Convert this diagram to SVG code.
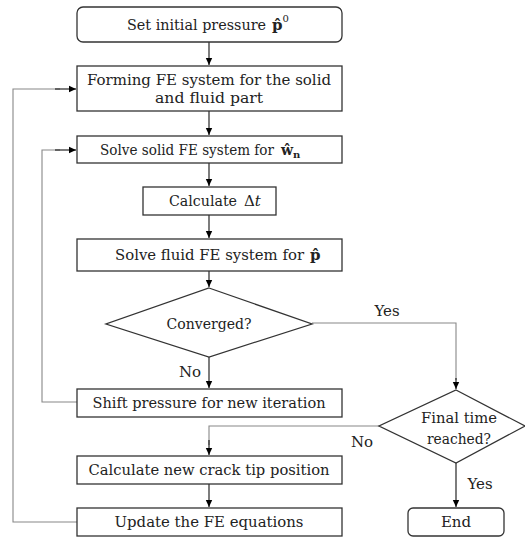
<svg xmlns="http://www.w3.org/2000/svg" width="525" height="539" viewBox="0 0 525 539">
<defs>
<marker id="ah" markerWidth="8" markerHeight="8" refX="7" refY="4" orient="auto" markerUnits="userSpaceOnUse">
<path d="M0,0.8 L7,4 L0,7.2 Z" fill="#000"/>
</marker>
<style>
.box{fill:#fff;stroke:#333;stroke-width:1.3}
text{font-family:'DejaVu Serif',serif;font-size:15px;fill:#222;text-anchor:middle}
.m{text-anchor:start;font-weight:bold}
.s{text-anchor:start;font-size:10px}
.c{fill:none;stroke:#111;stroke-width:1.1}
.g{fill:none;stroke:#888;stroke-width:1.1}
</style>
</defs>
<g id="connectors">
<path class="c" d="M209,42 V65" marker-end="url(#ah)"/>
<path class="c" d="M209,111 V135" marker-end="url(#ah)"/>
<path class="c" d="M209,163 V186" marker-end="url(#ah)"/>
<path class="c" d="M209,215 V238" marker-end="url(#ah)"/>
<path class="c" d="M209,271 V287" marker-end="url(#ah)"/>
<path class="c" d="M209,357 V388" marker-end="url(#ah)"/>
<path class="g" d="M312,323 H456 V380"/>
<path class="c" d="M456,378 V389" marker-end="url(#ah)"/>
<path class="g" d="M379,426 H209 V445"/>
<path class="c" d="M209,440 V455" marker-end="url(#ah)"/>
<path class="c" d="M209,484 V507" marker-end="url(#ah)"/>
<path class="c" d="M456,463 V507" marker-end="url(#ah)"/>
<path class="g" d="M77,402 H42 V150 H60"/>
<path class="c" d="M55,150 H76" marker-end="url(#ah)"/>
<path class="g" d="M77,522 H13 V89 H60"/>
<path class="c" d="M55,89 H76" marker-end="url(#ah)"/>
<text x="387" y="316">Yes</text>
<text x="190" y="377">No</text>
<text x="362" y="447">No</text>
<text x="480" y="489">Yes</text>
</g>
<g id="n1">
<rect class="box" x="77" y="7" width="265" height="35" rx="6"/>
<text x="196.5" y="30" textLength="139" lengthAdjust="spacingAndGlyphs">Set initial pressure</text>
<text class="m" x="272" y="30">p̂<tspan font-weight="normal" font-size="10" dy="-8">0</tspan></text>
</g>
<g id="n2">
<rect class="box" x="77" y="66" width="265" height="45"/>
<text x="209" y="85" textLength="244" lengthAdjust="spacingAndGlyphs">Forming FE system for the solid</text>
<text x="209" y="103" textLength="108" lengthAdjust="spacingAndGlyphs">and fluid part</text>
</g>
<g id="n3">
<rect class="box" x="77" y="136" width="265" height="27"/>
<text x="187" y="155" textLength="174" lengthAdjust="spacingAndGlyphs">Solve solid FE system for</text>
<text class="m" x="281" y="155" style="font-size:14px">ŵ<tspan font-size="10" dy="3">n</tspan></text>
</g>
<g id="n4">
<rect class="box" x="143" y="187" width="133" height="28"/>
<text x="203" y="206" textLength="68" lengthAdjust="spacingAndGlyphs">Calculate</text>
<text x="244" y="206" style="text-anchor:start">Δ<tspan font-style="italic">t</tspan></text>
</g>
<g id="n5">
<rect class="box" x="77" y="239" width="265" height="32"/>
<text x="209.5" y="260" textLength="189" lengthAdjust="spacingAndGlyphs">Solve fluid FE system for</text>
<text class="m" x="310" y="260">p̂</text>
</g>
<g id="n6">
<polygon class="box" points="209,288 312,324 209,357 106,324"/>
<text x="209" y="329" textLength="85" lengthAdjust="spacingAndGlyphs">Converged?</text>
</g>
<g id="n7">
<rect class="box" x="77" y="389" width="265" height="28"/>
<text x="209" y="408" textLength="233" lengthAdjust="spacingAndGlyphs">Shift pressure for new iteration</text>
</g>
<g id="n8">
<polygon class="box" points="456,390 525,426 456,463 379,426"/>
<text x="459" y="423" textLength="76" lengthAdjust="spacingAndGlyphs">Final time</text>
<text x="459" y="444" textLength="64" lengthAdjust="spacingAndGlyphs">reached?</text>
</g>
<g id="n9">
<rect class="box" x="77" y="456" width="265" height="28"/>
<text x="209" y="475" textLength="241" lengthAdjust="spacingAndGlyphs">Calculate new crack tip position</text>
</g>
<g id="n10">
<rect class="box" x="77" y="508" width="265" height="28"/>
<text x="209" y="527" textLength="189" lengthAdjust="spacingAndGlyphs">Update the FE equations</text>
</g>
<g id="n11">
<rect class="box" x="408" y="508" width="96" height="28" rx="5"/>
<text x="456" y="527">End</text>
</g>
</svg>
